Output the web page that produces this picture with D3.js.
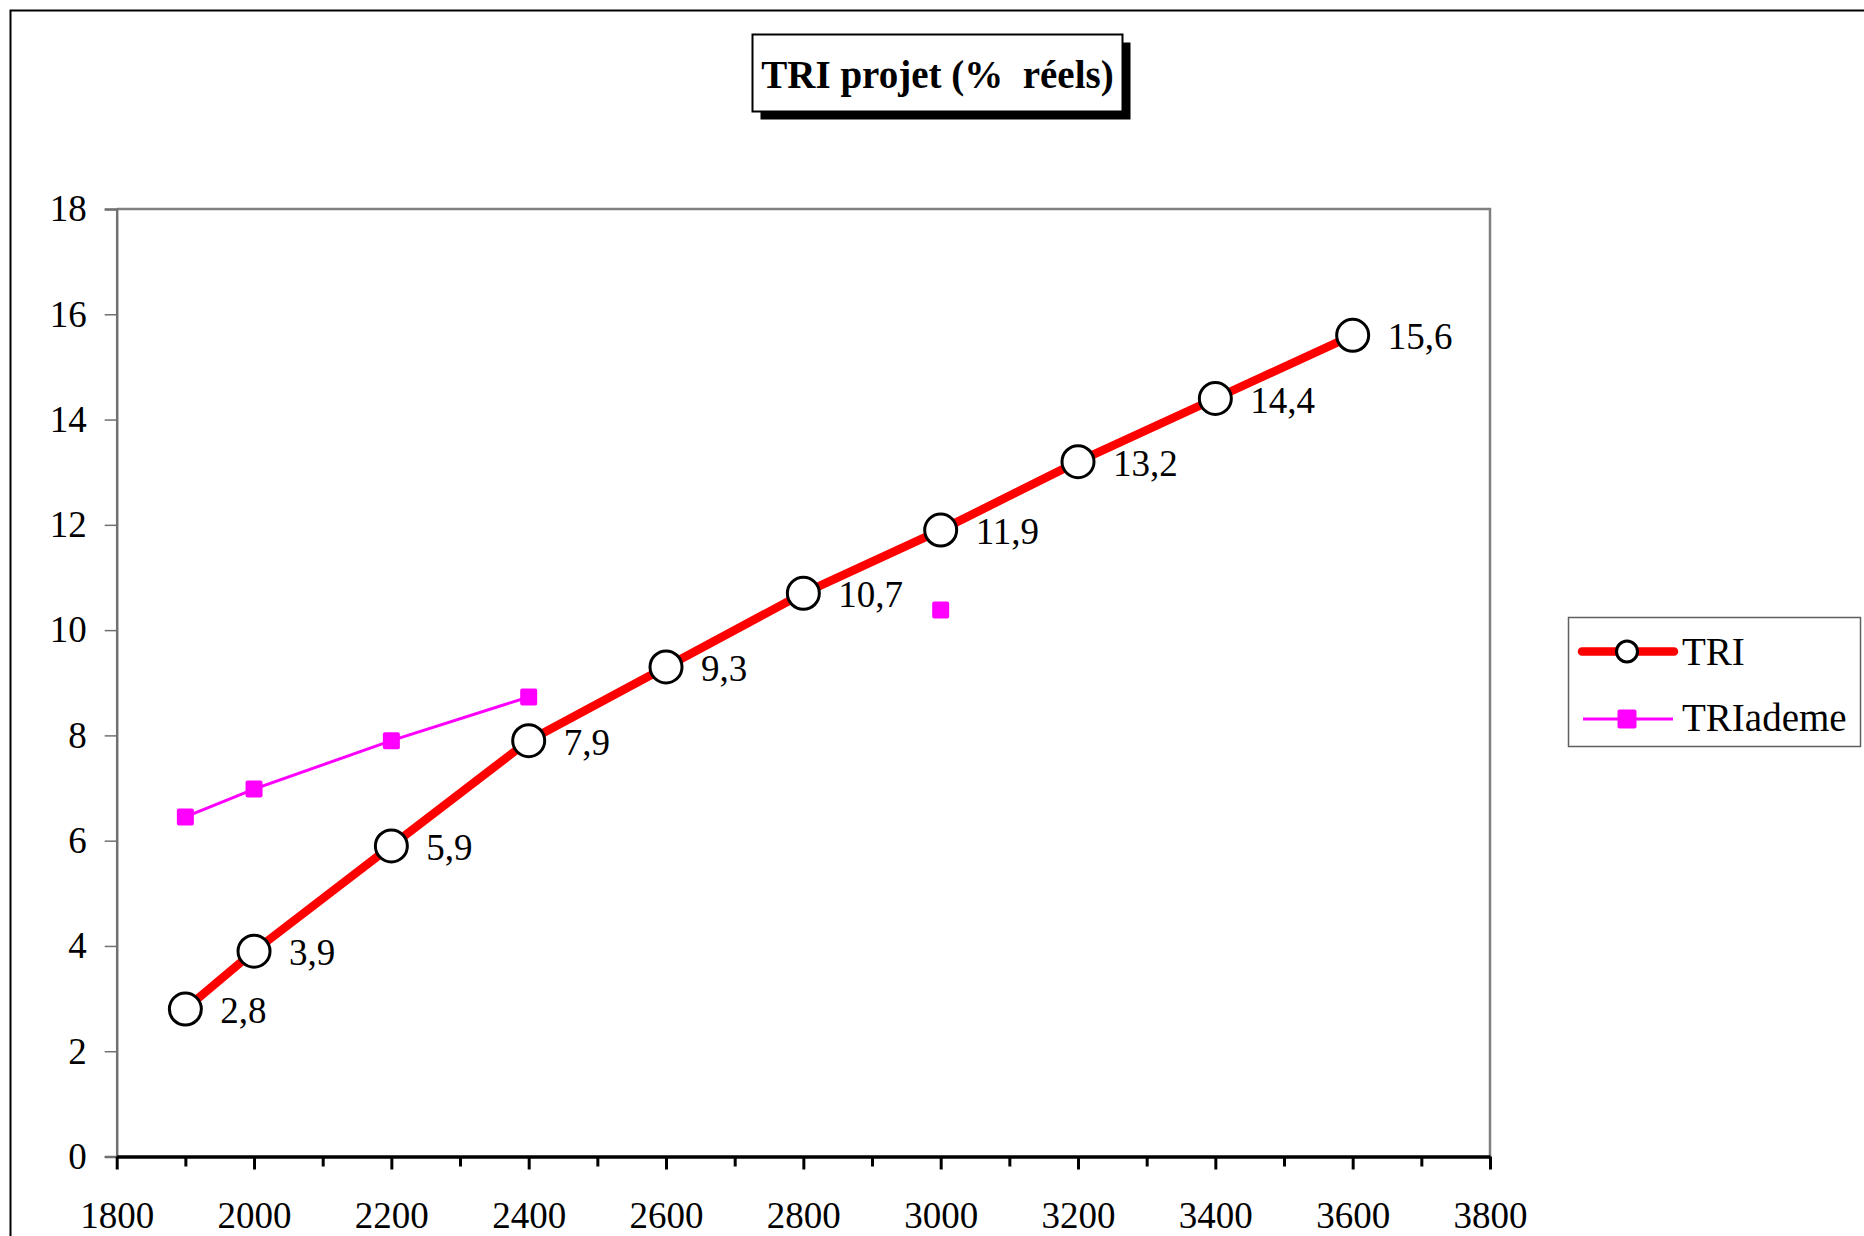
<!DOCTYPE html>
<html>
<head>
<meta charset="utf-8">
<script src="https://cdn.jsdelivr.net/npm/d3@7"></script>
<style>
  html, body { margin: 0; padding: 0; background: #fff; }
  svg { display: block; }
  text { font-family: "Liberation Serif", "Times New Roman", serif; fill: #000; }
</style>
</head>
<body>
<svg id="chart" width="1864" height="1236"></svg>
<script>
// Investment cost (x) and project internal rate of return, in real %
const costs = [1900, 2000, 2200, 2400, 2600, 2800, 3000, 3200, 3400, 3600];
const triValues = [2.8, 3.9, 5.9, 7.9, 9.3, 10.7, 11.9, 13.2, 14.4, 15.6];
// ADEME reference rates (no value for 2600 and 2800)
const triAdemeValues = [6.45, 6.98, 7.9, 8.73, null, null, 10.38];
const xTicks = [1800, 2000, 2200, 2400, 2600, 2800, 3000, 3200, 3400, 3600, 3800];
const yTicks = [0, 2, 4, 6, 8, 10, 12, 14, 16, 18];
const titleText = "TRI projet (%  réels)";
const seriesNames = ["TRI", "TRIademe"];

const svg = d3.select("#chart");
const frLocale = d3.formatLocale({ decimal: ",", thousands: " ", grouping: [3], currency: ["", " €"] });
const fmt = frLocale.format(".1f");

// Outer chart frame (runs past the right and bottom edges)
svg.append("rect")
  .attr("x", 10.5).attr("y", 10.5)
  .attr("width", 1950).attr("height", 1400)
  .attr("fill", "none").attr("stroke", "#000").attr("stroke-width", 2);

const plot = { left: 116.7, right: 1490, top: 209, bottom: 1156.5 };
const x = d3.scaleLinear().domain([1800, 3800]).range([plot.left, plot.right]);
const y = d3.scaleLinear().domain([0, 18]).range([plot.bottom, plot.top]);

// Plot area border (top and right in grey)
svg.append("path")
  .attr("d", `M${plot.left},${plot.top}H${plot.right}V${plot.bottom}`)
  .attr("fill", "none").attr("stroke", "#808080").attr("stroke-width", 2.5);

// Y axis
const yAxis = svg.append("g")
  .attr("transform", `translate(${plot.left},0)`)
  .call(d3.axisLeft(y).tickValues(yTicks).tickSize(12).tickPadding(18).tickFormat(d3.format("d")));
yAxis.select(".domain").attr("stroke", "#707070").attr("stroke-width", 2.5);
yAxis.selectAll(".tick line").attr("stroke", "#707070").attr("stroke-width", 1.5);
yAxis.selectAll(".tick text")
  .attr("font-size", 37).attr("font-family", "Liberation Serif").attr("fill", "#000");

// X axis: a tick every 100, labels every 200
const xAll = d3.range(1800, 3801, 100);
const xAxis = svg.append("g")
  .attr("transform", `translate(0,${plot.bottom})`)
  .call(d3.axisBottom(x).tickValues(xAll).tickSize(13).tickSizeOuter(0)
    .tickFormat(d => xTicks.includes(d) ? d3.format("d")(d) : ""));
xAxis.select(".domain").attr("stroke", "#000").attr("stroke-width", 3.5);
xAxis.selectAll(".tick line")
  .attr("stroke", "#000").attr("stroke-width", 3)
  .attr("y2", d => xTicks.includes(d) ? 13 : 10);
xAxis.selectAll(".tick text")
  .attr("y", 71).attr("dy", 0)
  .attr("font-size", 37).attr("font-family", "Liberation Serif").attr("fill", "#000");

// TRIademe series (magenta, thin line, squares)
const ademePts = triAdemeValues.map((v, i) => ({ x: costs[i], v })).filter(d => d.v !== null);
const ademeLine = d3.line().defined(d => d.v !== null).x(d => x(d.x)).y(d => y(d.v));
svg.append("path")
  .datum(triAdemeValues.map((v, i) => ({ x: costs[i], v })))
  .attr("d", ademeLine)
  .attr("fill", "none").attr("stroke", "#ff00ff").attr("stroke-width", 3);
const sq = 17;
svg.append("g").selectAll("rect")
  .data(ademePts).join("rect")
  .attr("x", d => x(d.x) - sq / 2).attr("y", d => y(d.v) - sq / 2)
  .attr("width", sq).attr("height", sq).attr("rx", 2)
  .attr("fill", "#ff00ff");

// TRI series (thick red line, open circles, value labels)
const triPts = costs.map((c, i) => ({ x: c, v: triValues[i] }));
svg.append("path")
  .datum(triPts)
  .attr("d", d3.line().x(d => x(d.x)).y(d => y(d.v)))
  .attr("fill", "none").attr("stroke", "#ff0000").attr("stroke-width", 8.5)
  .attr("stroke-linejoin", "round");
svg.append("g").selectAll("circle")
  .data(triPts).join("circle")
  .attr("cx", d => x(d.x)).attr("cy", d => y(d.v)).attr("r", 16)
  .attr("fill", "#fff").attr("stroke", "#000").attr("stroke-width", 3);
svg.append("g").selectAll("text")
  .data(triPts).join("text")
  .attr("x", d => x(d.x) + 35).attr("y", d => y(d.v) + 14)
  .attr("font-size", 37)
  .text(d => fmt(d.v));

// Title box with drop shadow
const tb = { x: 752.5, y: 34.5, w: 370, h: 77 };
svg.append("rect")
  .attr("x", tb.x + 8).attr("y", tb.y + 8).attr("width", tb.w).attr("height", tb.h)
  .attr("fill", "#000");
svg.append("rect")
  .attr("x", tb.x).attr("y", tb.y).attr("width", tb.w).attr("height", tb.h)
  .attr("fill", "#fff").attr("stroke", "#000").attr("stroke-width", 2);
svg.append("text")
  .attr("x", tb.x + tb.w / 2).attr("y", 88)
  .attr("text-anchor", "middle").attr("font-size", 39).attr("font-weight", "bold")
  .attr("xml:space", "preserve").style("white-space", "pre")
  .text(titleText);

// Legend
const lg = svg.append("g");
lg.append("rect")
  .attr("x", 1568.5).attr("y", 617.5).attr("width", 292).attr("height", 129)
  .attr("fill", "#fff").attr("stroke", "#606060").attr("stroke-width", 1.5);
lg.append("line")
  .attr("x1", 1582).attr("x2", 1674).attr("y1", 651.5).attr("y2", 651.5)
  .attr("stroke", "#ff0000").attr("stroke-width", 8.5).attr("stroke-linecap", "round");
lg.append("circle")
  .attr("cx", 1627).attr("cy", 651.5).attr("r", 10.5)
  .attr("fill", "#fff").attr("stroke", "#000").attr("stroke-width", 3);
lg.append("text").attr("x", 1682).attr("y", 665).attr("font-size", 39).text(seriesNames[0]);
lg.append("line")
  .attr("x1", 1583).attr("x2", 1673).attr("y1", 719).attr("y2", 719)
  .attr("stroke", "#ff00ff").attr("stroke-width", 3);
lg.append("rect")
  .attr("x", 1627 - 9.5).attr("y", 719 - 9.5).attr("width", 19).attr("height", 19).attr("rx", 2)
  .attr("fill", "#ff00ff");
lg.append("text").attr("x", 1682).attr("y", 731).attr("font-size", 39).text(seriesNames[1]);
</script>
</body>
</html>
